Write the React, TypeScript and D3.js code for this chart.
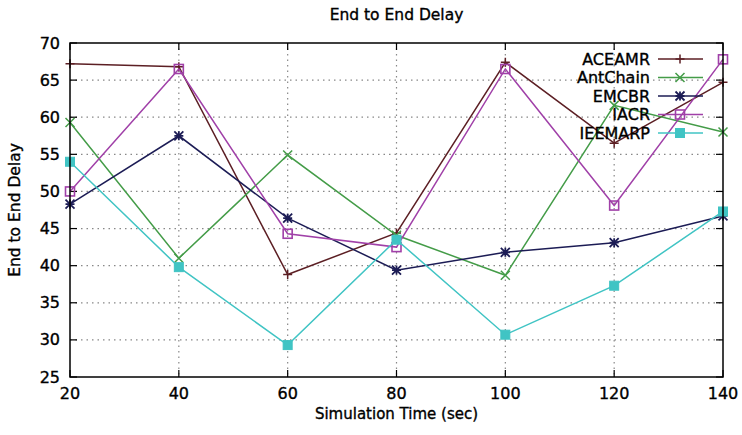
import React from 'react'
import * as d3 from 'd3'

const times = [20, 40, 60, 80, 100, 120, 140]
const aceamr = [67.2, 66.8, 38.8, 44.4, 67.4, 56.5, 64.7]
const antChain = [59.3, 41.0, 54.9, 44.1, 38.7, 61.6, 58.0]
const emcbr = [48.3, 57.5, 46.4, 39.4, 41.8, 43.1, 46.7]
const iacr = [50.0, 66.5, 44.3, 42.5, 66.5, 48.1, 67.8]
const ieemarp = [54.0, 39.8, 29.3, 43.5, 30.7, 37.3, 47.3]
const yTicks = [25, 30, 35, 40, 45, 50, 55, 60, 65, 70]

const series = [
  {name: 'ACEAMR', values: aceamr, color: '#5c1f24', marker: 'plus'},
  {name: 'AntChain', values: antChain, color: '#449c48', marker: 'cross'},
  {name: 'EMCBR', values: emcbr, color: '#1c1c55', marker: 'star'},
  {name: 'IACR', values: iacr, color: '#a040a8', marker: 'square'},
  {name: 'IEEMARP', values: ieemarp, color: '#40c4c4', marker: 'fsquare'},
]

const margin = {top: 43, right: 19, bottom: 58, left: 70}
const W = 742, H = 435
const width = W - margin.left - margin.right
const height = H - margin.top - margin.bottom
const font = 'DejaVu Sans, sans-serif'
// text in the source looks a little heavier than plain regular
const heavy = {stroke: '#000', strokeWidth: 0.35}

const Marker = ({type, x, y, color}: {type: string, x: number, y: number, color: string}) => {
  const s = 4.5
  if (type === 'plus') {
    return <path d={`M${x - s},${y}H${x + s}M${x},${y - s}V${y + s}`} stroke={color} strokeWidth={1.5}/>
  }
  if (type === 'cross') {
    return <path d={`M${x - s},${y - s}L${x + s},${y + s}M${x - s},${y + s}L${x + s},${y - s}`} stroke={color} strokeWidth={1.5}/>
  }
  if (type === 'star') {
    return <path d={`M${x - s},${y}H${x + s}M${x},${y - s}V${y + s}M${x - s},${y - s}L${x + s},${y + s}M${x - s},${y + s}L${x + s},${y - s}`} stroke={color} strokeWidth={1.8}/>
  }
  if (type === 'square') {
    return <rect x={x - s} y={y - s} width={2 * s} height={2 * s} fill="none" stroke={color} strokeWidth={1.6}/>
  }
  return <rect x={x - s} y={y - s} width={2 * s} height={2 * s} fill={color} stroke={color} strokeWidth={1}/>
}

export default function App() {
  const x = d3.scaleLinear().domain([20, 140]).range([0, width])
  const y = d3.scaleLinear().domain([25, 70]).range([height, 0])
  const line = d3.line<number>()
    .x((d, i) => x(times[i]))
    .y(d => y(d))

  return (
    <svg width={W} height={H} style={{position: 'absolute', left: 0, top: 0}} fontFamily={font}>
      <rect width={W} height={H} fill="#fff"/>
      <text x={margin.left + width / 2} y={20} textAnchor="middle" fontSize={15.5} {...heavy}>End to End Delay</text>
      <g transform={`translate(${margin.left},${margin.top})`}>
        {/* grid */}
        {yTicks.slice(1, -1).map(t => (
          <line key={'gy' + t} x1={0} x2={width} y1={y(t)} y2={y(t)} stroke="#888" strokeWidth={1.2} strokeDasharray="1.5,4"/>
        ))}
        {times.slice(1, -1).map(t => (
          <line key={'gx' + t} x1={x(t)} x2={x(t)} y1={0} y2={height} stroke="#888" strokeWidth={1.2} strokeDasharray="1.5,4"/>
        ))}
        {/* ticks, mirrored */}
        {yTicks.map(t => (
          <g key={'ty' + t}>
            <line x1={0} x2={7} y1={y(t)} y2={y(t)} stroke="#000" strokeWidth={1.2}/>
            <line x1={width - 7} x2={width} y1={y(t)} y2={y(t)} stroke="#000" strokeWidth={1.2}/>
            <text x={-10} y={y(t)} dy="0.35em" textAnchor="end" fontSize={16} {...heavy}>{t}</text>
          </g>
        ))}
        {times.map(t => (
          <g key={'tx' + t}>
            <line x1={x(t)} x2={x(t)} y1={height} y2={height - 7} stroke="#000" strokeWidth={1.2}/>
            <line x1={x(t)} x2={x(t)} y1={0} y2={7} stroke="#000" strokeWidth={1.2}/>
            <text x={x(t)} y={height + 22} textAnchor="middle" fontSize={16} {...heavy}>{t}</text>
          </g>
        ))}
        {/* series */}
        {series.map(s => (
          <g key={s.name}>
            <path d={line(s.values) || ''} fill="none" stroke={s.color} strokeWidth={1.5}/>
            {s.values.map((v, i) => (
              <Marker key={i} type={s.marker} x={x(times[i])} y={y(v)} color={s.color}/>
            ))}
          </g>
        ))}
        {/* legend */}
        {series.map((s, i) => {
          const ly = 16 + i * 18.5
          return (
            <g key={'lg' + s.name}>
              <text x={width - 73} y={ly} dy="0.35em" textAnchor="end" fontSize={16} {...heavy}>{s.name}</text>
              <line x1={width - 65} x2={width - 20} y1={ly} y2={ly} stroke={s.color} strokeWidth={1.5}/>
              <Marker type={s.marker} x={width - 43} y={ly} color={s.color}/>
            </g>
          )
        })}
        <rect x={0} y={0} width={width} height={height} fill="none" stroke="#000" strokeWidth={1.5}/>
      </g>
      <text x={margin.left + width / 2} y={419} textAnchor="middle" fontSize={15} {...heavy}>Simulation Time (sec)</text>
      <text transform={`translate(20,${margin.top + height / 2}) rotate(-90)`} textAnchor="middle" fontSize={15.5} {...heavy}>End to End Delay</text>
    </svg>
  )
}
